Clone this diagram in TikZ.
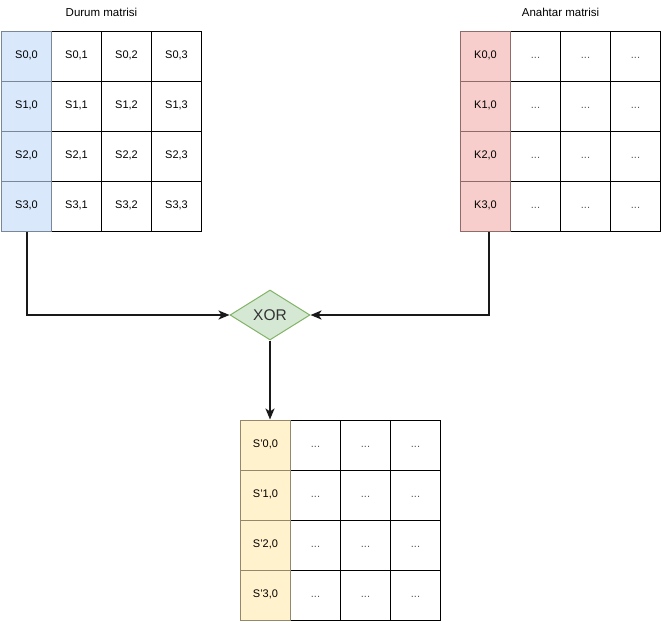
\documentclass[tikz,border=0pt]{standalone}
\usepackage{fontspec}
\setmainfont{Liberation Sans}
\usetikzlibrary{shapes.geometric,arrows.meta}
\definecolor{bluefill}{HTML}{DAE8FC}
\definecolor{bluedraw}{HTML}{7A8799}
\definecolor{redfill}{HTML}{F8CECC}
\definecolor{reddraw}{HTML}{8E6C6C}
\definecolor{yelfill}{HTML}{FFF2CC}
\definecolor{yeldraw}{HTML}{938869}
\definecolor{grnfill}{HTML}{D5E8D4}
\definecolor{grndraw}{HTML}{82B366}
\definecolor{dotgray}{HTML}{555555}
\tikzset{
  cell/.style={draw=black, line width=1pt, fill=white, minimum width=50pt, minimum height=50pt, inner sep=0pt, text height=8pt, text depth=2.5pt, font=\fontsize{11}{13}\selectfont},
  bluecell/.style={cell, fill=bluefill, draw=bluedraw},
  redcell/.style={cell, fill=redfill, draw=reddraw},
  yelcell/.style={cell, fill=yelfill, draw=yeldraw},
  dotcell/.style={cell, text=dotgray},
  title/.style={font=\fontsize{11.5}{13}\selectfont, inner sep=0pt},
  xorbox/.style={shape=diamond, draw=grndraw, fill=grnfill, line width=1pt, minimum width=80pt, minimum height=50pt, aspect=1.6, inner sep=0pt, font=\fontsize{15.5}{17}\selectfont, text=black!80},
  conn/.style={line width=2pt, draw=black!90, -{Stealth[length=11pt,width=9pt,inset=3pt]}}
}
\begin{document}
\begin{tikzpicture}[x=1pt,y=-1pt]
\useasboundingbox (0,0) rectangle (661,621);
% Left matrix (state)
\node[title] (t1) at (101.5,12) {Durum matrisi};
\foreach \r in {0,1,2,3} {
  \node[bluecell] (L\r0) at (26.5,56+50*\r) {S\r,0};
  \foreach \c in {1,2,3} {
    \node[cell] (L\r\c) at (26.5+50*\c,56+50*\r) {S\r,\c};
  }
}
% Right matrix (key)
\node[title] (t2) at (560.5,12) {Anahtar matrisi};
\foreach \r in {0,1,2,3} {
  \node[redcell] (R\r0) at (485.5,56+50*\r) {K\r,0};
  \foreach \c in {1,2,3} {
    \node[dotcell] (R\r\c) at (485.5+50*\c,56+50*\r) {...};
  }
}
% Bottom matrix (result)
\foreach \r in {0,1,2,3} {
  \node[yelcell] (B\r0) at (265.5,445+50*\r) {S'\r,0};
  \foreach \c in {1,2,3} {
    \node[dotcell] (B\r\c) at (265.5+50*\c,445+50*\r) {...};
  }
}
% redraw colored columns on top so their borders show
\foreach \r in {0,1,2,3} {
  \node[bluecell] at (L\r0) {S\r,0};
  \node[redcell] at (R\r0) {K\r,0};
  \node[yelcell] at (B\r0) {S'\r,0};
}
% XOR
\node[xorbox] (xor) at (270,315) {XOR};
% connectors
\coordinate (lk) at ([xshift=0.5pt]L30.south);
\coordinate (rk) at ([xshift=3.5pt]R30.south);
\draw[conn] (lk) |- (xor.west);
\draw[conn] (rk) |- (xor.east);
\draw[conn] (xor.south) -- (xor.south |- B00.north);
\end{tikzpicture}
\end{document}
